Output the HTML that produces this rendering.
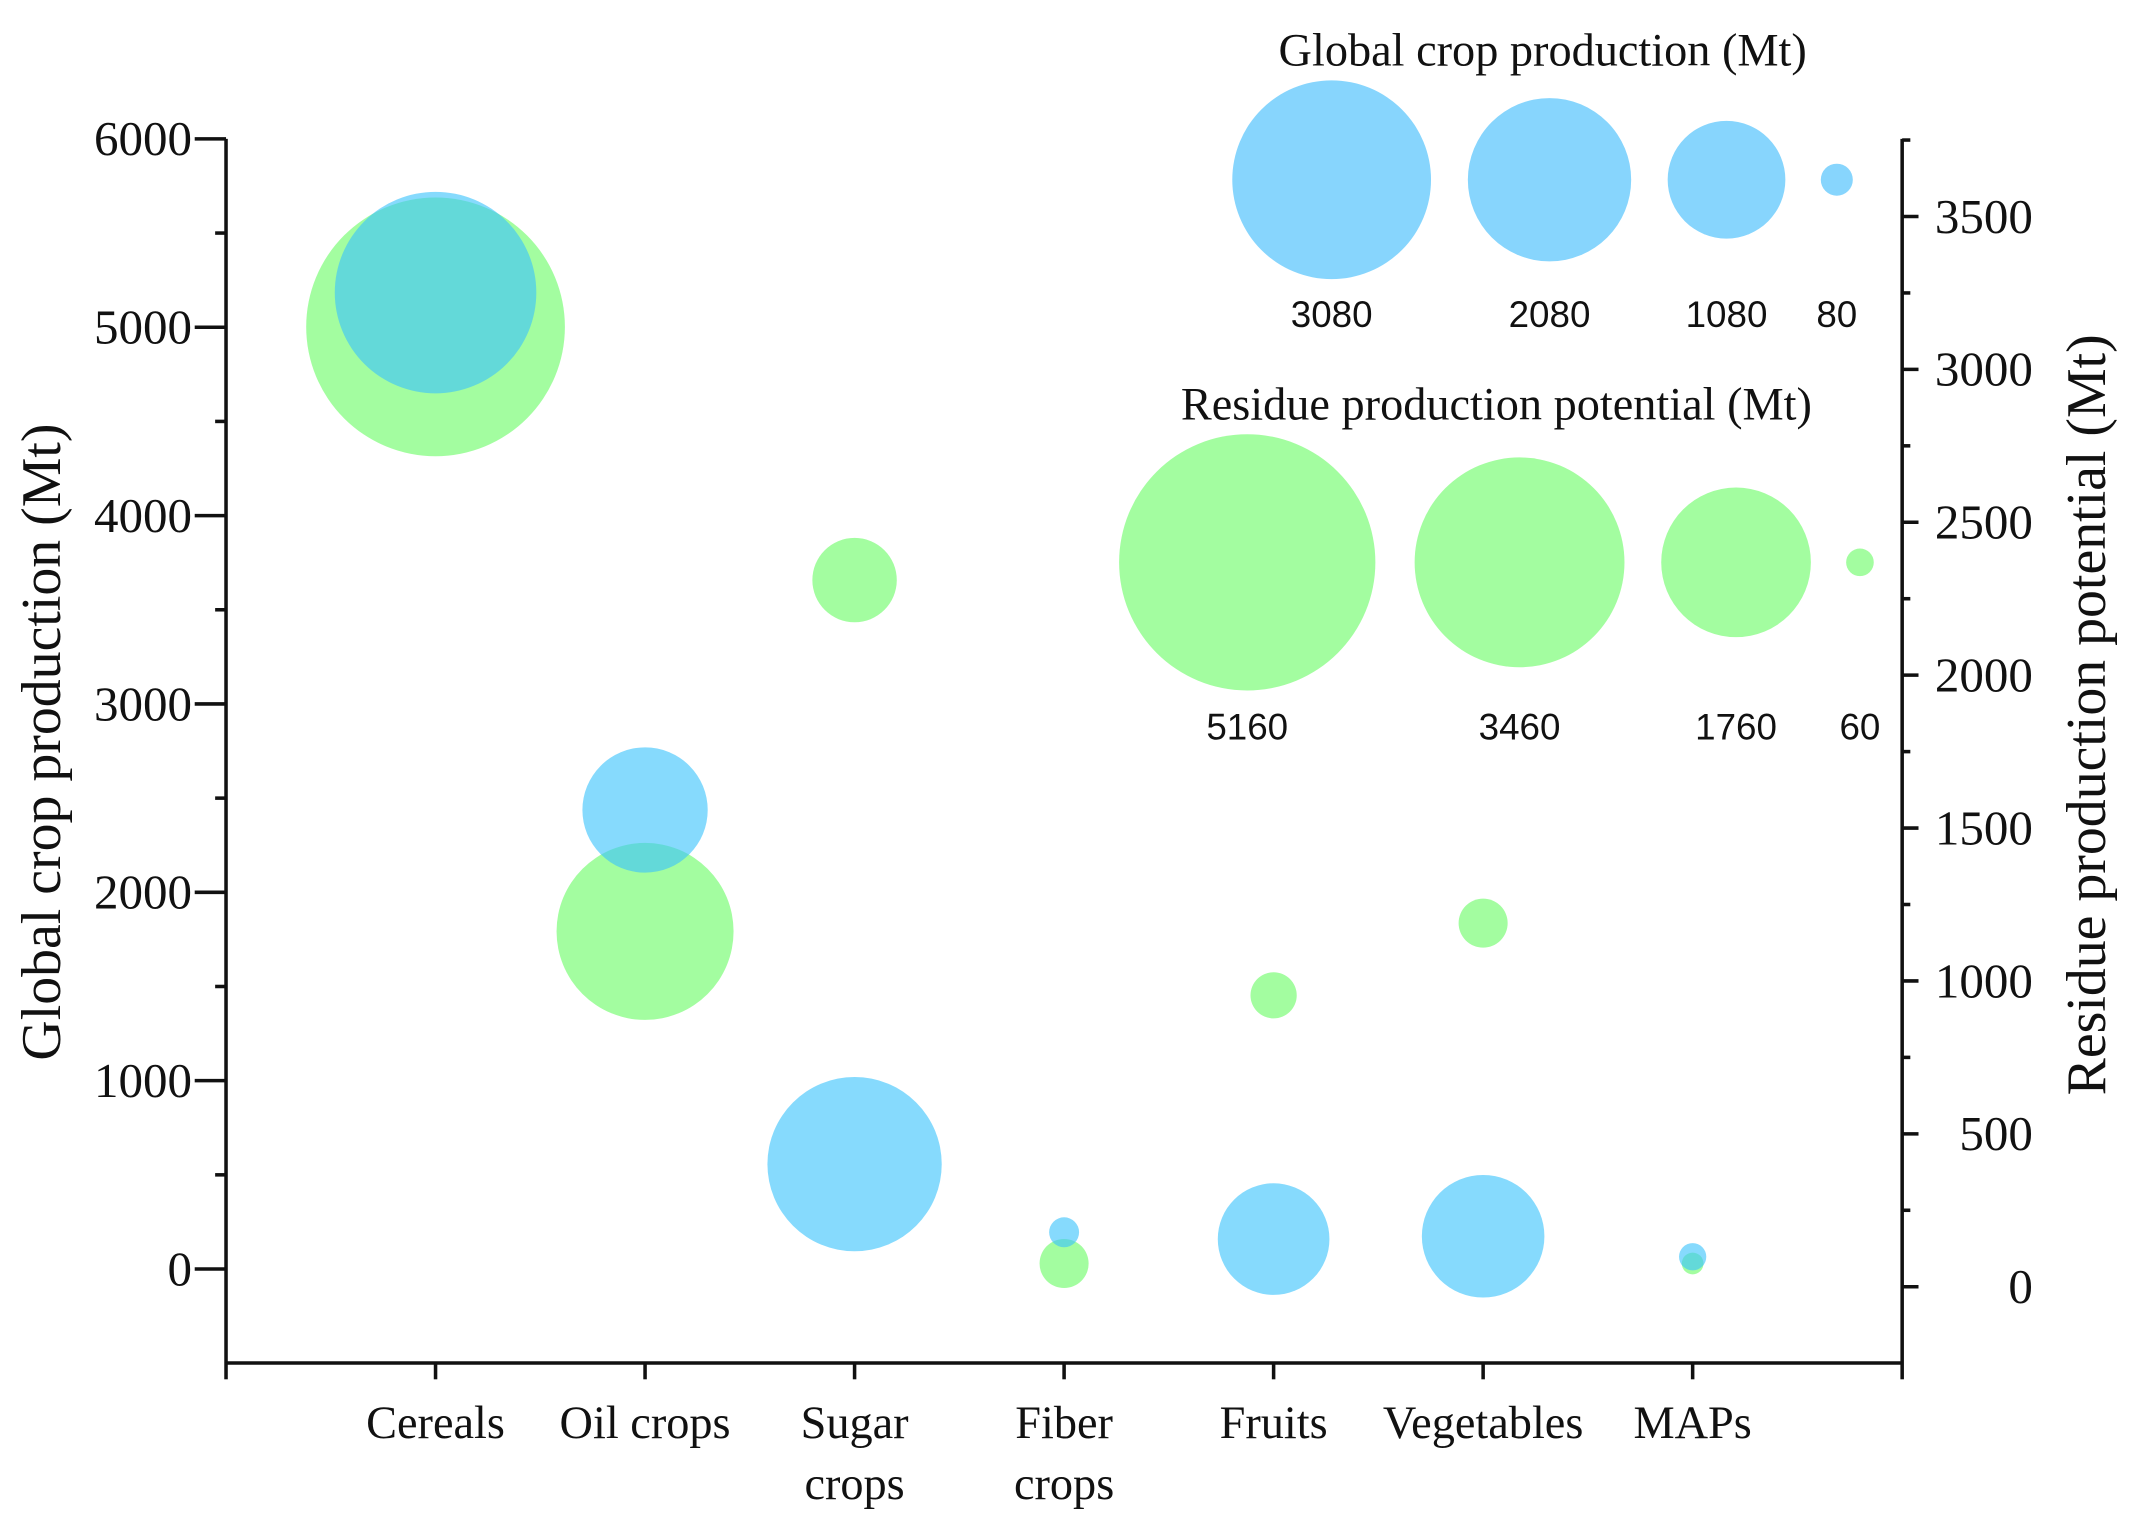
<!DOCTYPE html>
<html><head><meta charset="utf-8"><style>
html,body{margin:0;padding:0;background:#fff;}
svg{display:block;}
text{font-family:"Liberation Serif",serif;fill:#111;}
.sans{font-family:"Liberation Sans",sans-serif;}
</style></head><body>
<svg id="chart" width="2135" height="1528" viewBox="0 0 1568 1122.2" preserveAspectRatio="none" xmlns="http://www.w3.org/2000/svg">
<g id="axes"></g>
<g id="bubbles"></g>
<g id="legend"></g>
</svg>
<script>
const categories = ["Cereals","Oil crops","Sugar crops","Fiber crops","Fruits","Vegetables","MAPs"];
const cropProduction = [5184, 2437, 557, 195, 159, 174, 65];
const cropSize = [3167, 1224, 2369, 70, 972, 1171, 58];
const residueProduction = [3139, 1162, 2311, 76, 953, 1189, 76];
const residueSize = [5259, 2462, 560, 189, 168, 189, 37];
const leftTicks = [0,1000,2000,3000,4000,5000,6000];
const rightTicks = [0,500,1000,1500,2000,2500,3000,3500];
const cropLegend = [3080,2080,1080,80];
const residueLegend = [5160,3460,1760,60];

const NS="http://www.w3.org/2000/svg";
const X0=166,X1=1397,YT=102,YB=1001;
const xS=i=>X0+(X1-X0)*(i+1)/8;
const yL=v=>932-(v)*(932-102)/6000;
const yR=v=>945-v*(945-159)/3500;
const rB=v=>1.315*Math.sqrt(v);
const rG=v=>1.31*Math.sqrt(v);
function mk(tag,attrs,parent,txt){const e=document.createElementNS(NS,tag);for(const k in attrs)e.setAttribute(k,attrs[k]);if(txt!==undefined)e.textContent=txt;parent.appendChild(e);return e;}
const axes=document.getElementById('axes'),bub=document.getElementById('bubbles'),leg=document.getElementById('legend');
const st={stroke:"#111","stroke-width":2.6};
let l=mk('line',Object.assign({x1:X0,y1:YT,x2:X0,y2:YB},st),axes);

l=mk('line',Object.assign({x1:X1,y1:YT,x2:X1,y2:YB},st),axes);

l=mk('line',Object.assign({x1:X0,y1:YB,x2:X1,y2:YB},st),axes);

for(let v=-500;v<=6000;v+=500){const y=yL(v);if(y>YB-1)continue;const major=v%1000===0;
 mk('line',Object.assign({x1:X0-(major?23:8),y1:y,x2:X0,y2:y},st),axes);}
leftTicks.forEach(v=>{const t=mk('text',{x:141,y:yL(v)+12,'text-anchor':'end','font-size':36},axes,String(v));
 });
for(let v=0;v<=3750;v+=250){const y=yR(v);if(y<YT)continue;const major=v%500===0;
 mk('line',Object.assign({x1:X1,y1:y,x2:X1+(major?12:6),y2:y},st),axes);}
rightTicks.forEach(v=>{const t=mk('text',{x:1493,y:yR(v)+12,'text-anchor':'end','font-size':36},axes,String(v));
 });
for(let i=-1;i<=7;i++){mk('line',Object.assign({x1:xS(i),y1:YB,x2:xS(i),y2:YB+12},st),axes);}
categories.forEach((c,i)=>{const parts=c==="Sugar crops"?["Sugar","crops"]:c==="Fiber crops"?["Fiber","crops"]:[c];
 parts.forEach((p,j)=>{const t=mk('text',{x:xS(i),y:1056+j*45,'text-anchor':'middle','font-size':34},axes,p);
 });});
let t=mk('text',{x:0,y:0,'text-anchor':'middle','font-size':41,transform:'translate(44,545) rotate(-90)'},axes,'Global crop production (Mt)');

t=mk('text',{x:0,y:0,'text-anchor':'middle','font-size':41,transform:'translate(1546,525) rotate(-90)'},axes,'Residue production potential (Mt)');

categories.forEach((c,i)=>{const e=mk('circle',{cx:xS(i),cy:yR(residueProduction[i]),r:rG(residueSize[i]),fill:'#a3fda0'},bub);
 });
categories.forEach((c,i)=>{const e=mk('circle',{cx:xS(i),cy:yL(cropProduction[i]),r:rB(cropSize[i]),fill:'rgb(60,195,252)','fill-opacity':0.62},bub);
 });
t=mk('text',{x:1133,y:48,'text-anchor':'middle','font-size':34},leg,'Global crop production (Mt)');

const bx=[978,1138,1268,1349];
cropLegend.forEach((v,i)=>{const c=mk('circle',{cx:bx[i],cy:132,r:rB(v),fill:'#87d5fd'},leg);
 
 const tt=mk('text',{x:bx[i],y:240,'text-anchor':'middle','font-size':27,class:'sans'},leg,String(v));
 });
t=mk('text',{x:1099,y:308,'text-anchor':'middle','font-size':34},leg,'Residue production potential (Mt)');

const gx=[916,1116,1275,1366];
residueLegend.forEach((v,i)=>{const c=mk('circle',{cx:gx[i],cy:413,r:rG(v),fill:'#a3fda0'},leg);
 
 const tt=mk('text',{x:gx[i],y:543,'text-anchor':'middle','font-size':27,class:'sans'},leg,String(v));
 });
</script>
</body></html>
